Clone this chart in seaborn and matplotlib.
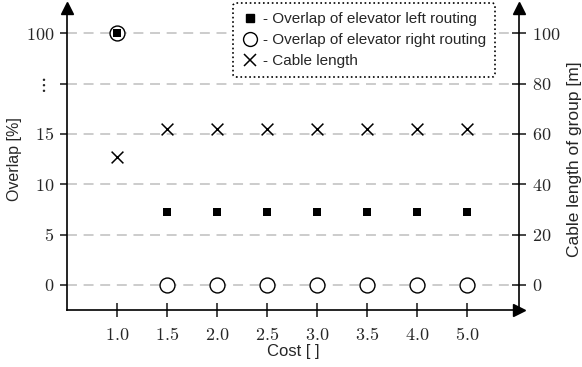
import numpy as np
import pandas as pd
import matplotlib
matplotlib.use("Agg")
import matplotlib.pyplot as plt
import seaborn as sns
from matplotlib.lines import Line2D

costs = ["1.0", "1.5", "2.0", "2.5", "3.0", "3.5", "4.0", "5.0"]
overlap_left = [100, 7.2, 7.2, 7.2, 7.2, 7.2, 7.2, 7.2]
overlap_right = [100, 0, 0, 0, 0, 0, 0, 0]
cable_length = [50.8, 62, 62, 62, 62, 62, 62, 62]

left_ticks = [0, 5, 10, 15, 20, 100]
left_ticklabels = ["$0$", "$5$", "$10$", "$15$", r"$\vdots$", "$100$"]
right_ticks = [0, 20, 40, 60, 80, 100]

legend_labels = ["- Overlap of elevator left routing",
                 "- Overlap of elevator right routing",
                 "- Cable length"]

sns.set_style("white")
plt.rcParams["font.family"] = ["Liberation Sans", "DejaVu Sans"]
plt.rcParams["mathtext.fontset"] = "cm"

fig = plt.figure(figsize=(5.82, 3.67), dpi=100)
ax = fig.add_axes([67 / 582, 1 - 310 / 367, 452 / 582, 302 / 367])


def fwd(v):
    v = np.asarray(v, dtype=float)
    return np.where(v <= 20, v, 20 + (v - 20) / 16.0)


def inv(u):
    u = np.asarray(u, dtype=float)
    return np.where(u <= 20, u, 20 + (u - 20) * 16.0)


df = pd.DataFrame({"cost": costs, "left": overlap_left,
                   "right": overlap_right, "cable": cable_length})

ax.set_yscale("function", functions=(fwd, inv))

sns.scatterplot(data=df, x="cost", y="right", ax=ax, marker="o", s=115,
                facecolor="white", edgecolor="black", linewidth=1.0, zorder=3)
sns.scatterplot(data=df, x="cost", y="left", ax=ax, marker="s", s=40,
                color="black", edgecolor="black", linewidth=0, zorder=4)

ax.set_ylim(-2.5, 140)
ax.set_xlim(-1, 8.04)
ax.set_yticks(left_ticks)
ax.set_yticklabels(left_ticklabels)
ax.yaxis.grid(True, color="#c8c8c8", linestyle=(0, (5.5, 3.7)), linewidth=1.3)
ax.set_axisbelow(True)

ax2 = ax.twinx()
sns.scatterplot(data=df, x="cost", y="cable", ax=ax2, marker="x", s=72,
                color="black", linewidth=1.1, zorder=4)
ax2.set_ylim(-10, 110)
ax2.set_yticks(right_ticks)
ax2.set_yticklabels([f"${t}$" for t in right_ticks])
ax.set_xlim(-1, 8.04)

for a in (ax, ax2):
    a.spines["top"].set_visible(False)
    for s in a.spines.values():
        s.set_linewidth(1.2)
        s.set_color("black")
ax.spines["right"].set_visible(False)
ax2.spines["left"].set_visible(False)
ax2.spines["bottom"].set_visible(False)

ax.tick_params(axis="y", direction="out", length=5, width=1.2, labelsize=13, pad=4, left=True)
ax.tick_params(axis="x", direction="inout", length=10, width=1.2, labelsize=13, pad=7, bottom=True)
ax2.tick_params(axis="y", direction="inout", length=10, width=1.2, labelsize=13, pad=4, right=True)
ax.set_xticks(range(len(costs)))
ax.set_xticklabels([f"${c}$" for c in costs])
vt = ax.yaxis.get_major_ticks()[4]
vt.tick1line.set_markersize(1)
vt.set_pad(10)
vt.label1.set_fontsize(14)

ax.set_xlabel("Cost [ ]", fontsize=12, labelpad=0)
ax.set_ylabel("Overlap [%]", fontsize=11.5, labelpad=3)
ax2.set_ylabel("Cable length of group [m]", fontsize=12.5, labelpad=5)

# axis arrows
kw = dict(color="black", clip_on=False, zorder=6, markersize=8)
ax2.plot([0], [1], marker="^", transform=ax2.transAxes, **kw)
ax2.plot([1], [1], marker="^", transform=ax2.transAxes, **kw)
ax2.plot([1], [0], marker=">", transform=ax2.transAxes, **kw)

handles = [
    Line2D([], [], marker="s", color="black", linestyle="none", markersize=6),
    Line2D([], [], marker="o", markerfacecolor="white", markeredgecolor="black",
           linestyle="none", markersize=10, markeredgewidth=1.0),
    Line2D([], [], marker="x", color="black", linestyle="none", markersize=9,
           markeredgewidth=1.1),
]
leg = fig.legend(handles, legend_labels, loc="upper right",
                 bbox_to_anchor=(495 / 582, 1 - 3 / 367), bbox_transform=fig.transFigure,
                 fontsize=11, frameon=True, fancybox=True, handlelength=1.0,
                 handletextpad=0.35, borderpad=0.6, labelspacing=0.45, borderaxespad=0)
fr = leg.get_frame()
fr.set_linestyle(":")
fr.set_edgecolor("black")
fr.set_linewidth(1.2)
fr.set_alpha(1)
leg.set_zorder(10)

fig.savefig("out.png", dpi=100)
